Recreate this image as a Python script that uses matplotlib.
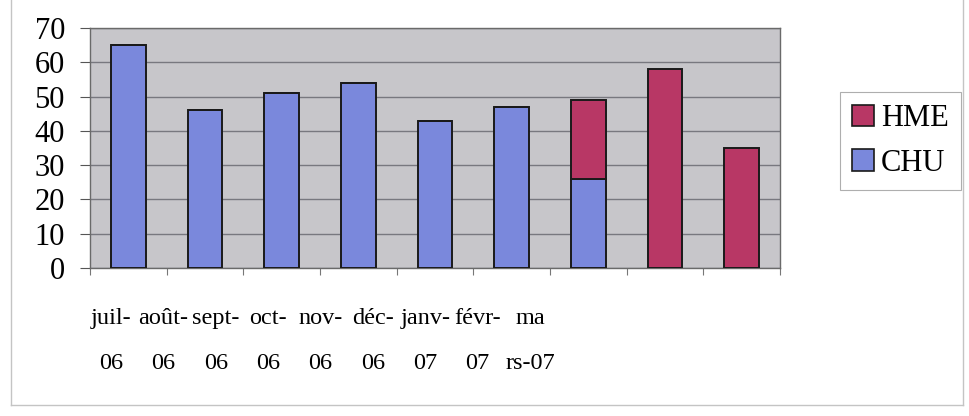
import matplotlib
matplotlib.use("Agg")
import matplotlib.pyplot as plt
from matplotlib.lines import Line2D
from matplotlib.patches import Patch
import numpy as np

# Monthly counts per site
months = ["juil-\n06", "août-\n06", "sept-\n06", "oct-\n06", "nov-\n06",
          "déc-\n06", "janv-\n07", "févr-\n07", "ma\nrs-07"]
chu = [65, 46, 51, 54, 43, 47, 26, 0, 0]
hme = [0, 0, 0, 0, 0, 0, 23, 58, 35]
y_ticks = [0, 10, 20, 30, 40, 50, 60, 70]

blue = "#7A88DC"
red = "#B83765"
plot_bg = "#C7C6CA"
grid_col = "#78787F"
serif = ["Liberation Serif", "DejaVu Serif"]

W, H = 969, 416
fig = plt.figure(figsize=(W / 100, H / 100), dpi=100)
fig.patch.set_facecolor("white")

left, right, top, bottom = 90, 780, 28, 268
ax = fig.add_axes([left / W, 1 - bottom / H, (right - left) / W, (bottom - top) / H])
ax.set_facecolor(plot_bg)

x = np.arange(len(months))
width = 0.45
ax.bar(x, chu, width, color=blue, edgecolor="#1a1a1a", linewidth=1.4, zorder=3)
ax.bar(x, hme, width, bottom=chu, color=red, edgecolor="#1a1a1a", linewidth=1.4, zorder=3)

ax.set_xlim(-0.5, len(months) - 0.5)
ax.set_ylim(0, 70)
ax.set_yticks(y_ticks)
ax.set_yticklabels([str(v) for v in y_ticks], fontsize=22, family=serif)
ax.tick_params(axis="y", direction="out", length=7, width=0.8, color="#555555", pad=11)
ax.yaxis.grid(True, color=grid_col, linewidth=1.0, zorder=1)
ax.set_axisbelow(True)

# category boundary ticks along the bottom axis
ax.set_xticks(np.arange(-0.5, len(months), 1.0))
ax.set_xticklabels([])
ax.tick_params(axis="x", direction="out", length=5, width=0.8, color="#777777")

for s in ax.spines.values():
    s.set_color("#6a6a6a")
    s.set_linewidth(1.0)

# month labels on their own bottom scale
lab = fig.add_axes(ax.get_position(), frameon=False)
lab.set_xlim(-0.40, 12.77)
lab.set_ylim(0, 1)
lab.patch.set_visible(False)
lab.set_yticks([])
lab.set_xticks(x)
lab.set_xticklabels(months, fontsize=17.5, family=serif, linespacing=2.5,
                    multialignment="center")
lab.tick_params(axis="x", length=0, pad=28.5)

# legend
handles = [Patch(facecolor=red, edgecolor="#1a1a1a", linewidth=1.2, label="HME"),
           Patch(facecolor=blue, edgecolor="#1a1a1a", linewidth=1.2, label="CHU")]
leg = fig.legend(handles=handles, loc="center",
                 bbox_to_anchor=(900.5 / W, 1 - 141 / H),
                 prop={"family": serif, "size": 22},
                 frameon=True, fancybox=False, shadow=False,
                 handlelength=0.7, handleheight=0.7, handletextpad=0.25,
                 labelspacing=0.5, borderpad=0.4, borderaxespad=0)
leg.get_frame().set_edgecolor("#9a9a9a")
leg.get_frame().set_linewidth(0.8)

# outer chart frame
frame_col = "#c4c4c4"
fx0, fx1, fy1 = 11 / W, 963 / W, 1 - 405 / H
fig.add_artist(Line2D([fx0, fx0], [fy1, 1.0], color=frame_col, linewidth=1.0))
fig.add_artist(Line2D([fx1, fx1], [fy1, 1.0], color=frame_col, linewidth=1.0))
fig.add_artist(Line2D([fx0, fx1], [fy1, fy1], color=frame_col, linewidth=1.0))

fig.savefig("out.png", dpi=100)
